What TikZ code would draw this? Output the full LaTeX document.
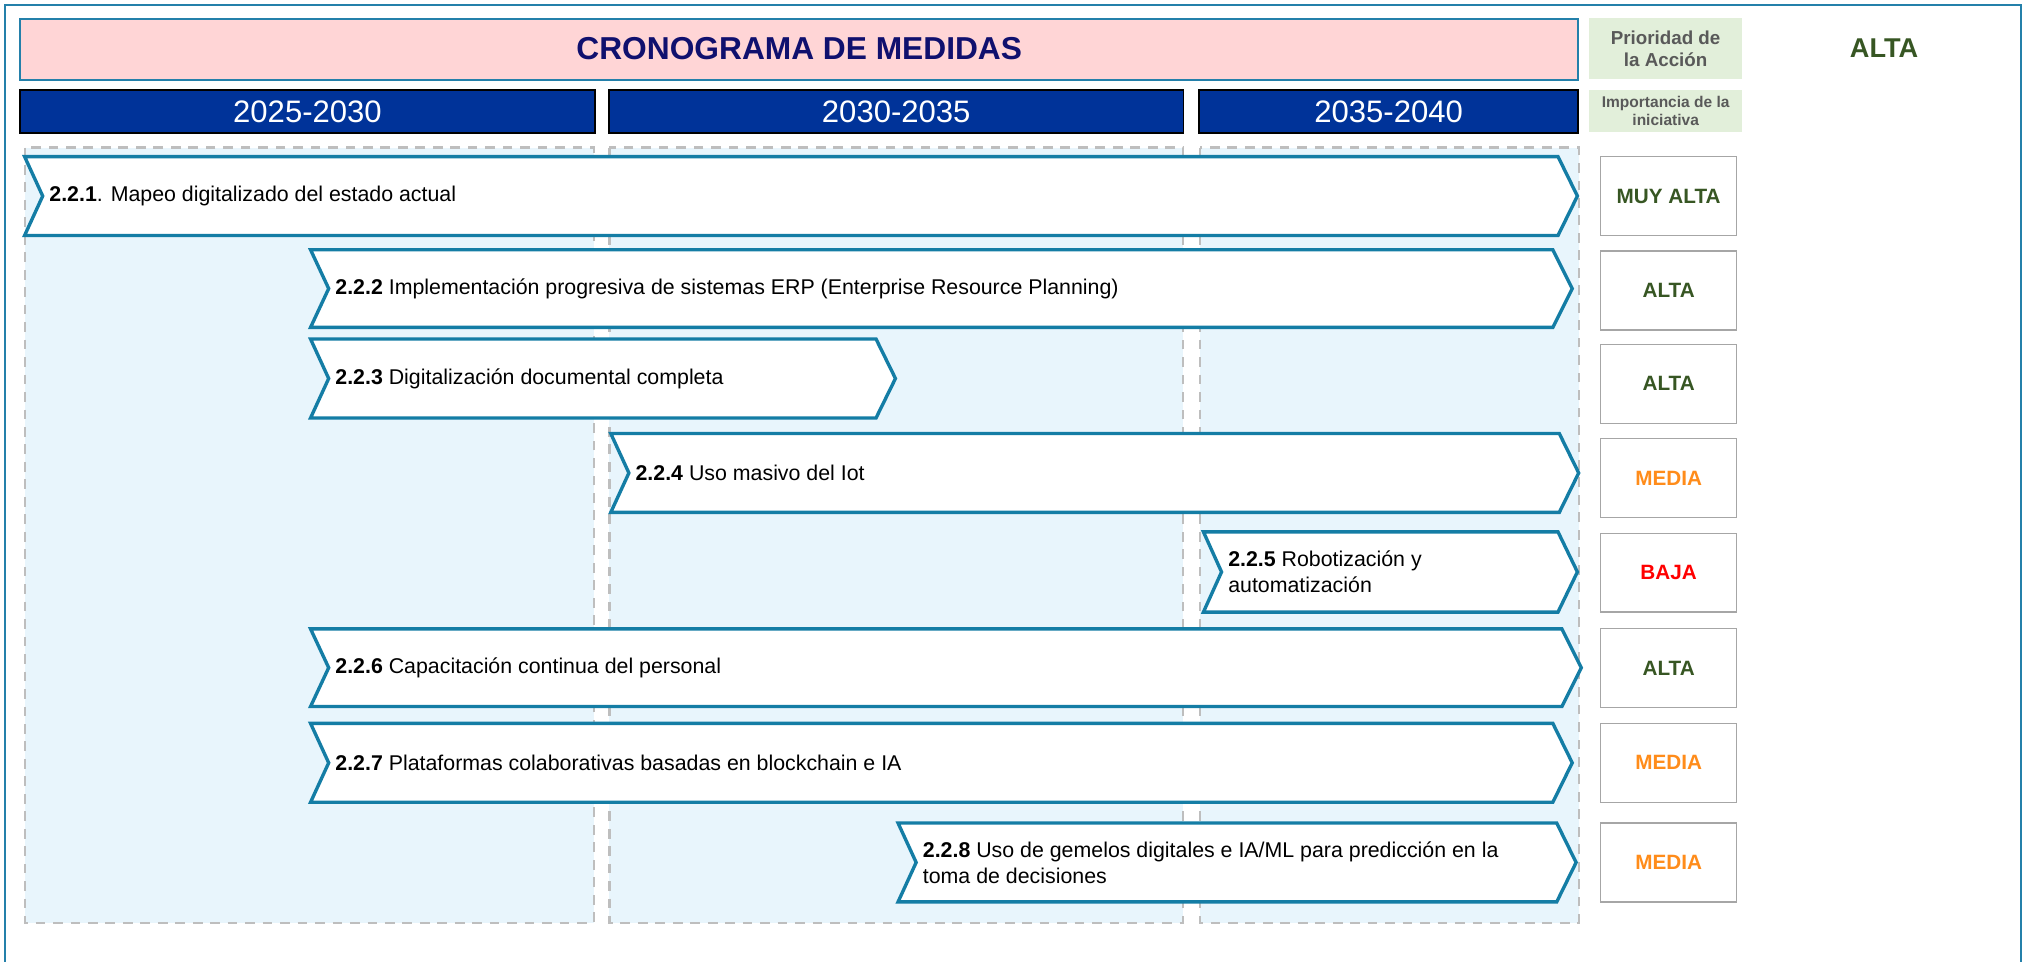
\documentclass[tikz,border=0pt]{standalone}
\usepackage{fontspec}
\setmainfont{Liberation Sans}
\definecolor{framec}{RGB}{36,128,170}
\definecolor{chevc}{RGB}{20,125,165}
\definecolor{titlefill}{RGB}{255,213,214}
\definecolor{titletext}{RGB}{16,16,110}
\definecolor{yearfill}{RGB}{0,51,153}
\definecolor{panelfill}{RGB}{232,245,252}
\definecolor{paneldash}{RGB}{190,190,190}
\definecolor{legfill}{RGB}{226,239,218}
\definecolor{legtext}{RGB}{89,89,89}
\definecolor{prgreen}{RGB}{55,86,35}
\definecolor{prorange}{RGB}{255,140,26}
\definecolor{prred}{RGB}{255,0,0}
\definecolor{prbox}{RGB}{166,166,166}
\newcommand\chevbar[6]{%
  \draw[chev] (#2,#3) -- ({#4-15},#3) -- (#4,{(#3+#5)/2}) -- ({#4-15},#5) -- (#2,#5) -- ({#2+14},{(#3+#5)/2}) -- cycle;
  \node[bartext] (#1) at ({#2+19},{(#3+#5)/2}) {#6};}
\begin{document}
\begin{tikzpicture}[x=1pt,y=-1pt,
  outerframe/.style={draw=framec, line width=1.6pt},
  titlebox/.style={draw=framec, line width=1.3pt, fill=titlefill, anchor=north west, inner sep=0pt,
    font=\fontsize{24.5}{28}\selectfont\bfseries, text=titletext},
  yearbox/.style={draw=black, line width=1.2pt, fill=yearfill, anchor=north west, inner sep=0pt,
    font=\fontsize{24}{28}\selectfont, text=white},
  legbox/.style={fill=legfill, anchor=north west, inner sep=0pt, align=center, text=legtext},
  panel/.style={draw=paneldash, fill=panelfill, line width=1.6pt, dash pattern=on 7.5pt off 6pt},
  chev/.style={draw=chevc, fill=white, line width=2.6pt, line join=miter},
  bartext/.style={anchor=west, inner sep=0pt, align=left, font=\fontsize{16.5}{20}\selectfont},
  prio/.style={draw=prbox, line width=0.9pt, fill=white, minimum width=105pt, minimum height=61pt,
    inner sep=0pt, font=\fontsize{16}{19}\selectfont\bfseries},
]
\useasboundingbox (0,0) rectangle (1568,743);
\draw[outerframe] (4,4) rectangle (1562,770);

% header
\node[titlebox, minimum width=1204pt, minimum height=47pt] (title) at (15,14) {\raisebox{2pt}{CRONOGRAMA DE MEDIDAS}};
\node[legbox, minimum width=118pt, minimum height=47pt, font=\fontsize{14.5}{17}\selectfont\bfseries] (prio) at (1228,14) {Prioridad de\\la Acción};
\node[legbox, minimum width=118pt, minimum height=33pt, font=\fontsize{12}{14}\selectfont\bfseries] (imp) at (1228,69) {Importancia de la\\iniciativa};
\node[text=prgreen, font=\fontsize{21}{24}\selectfont\bfseries] (alta) at (1456,37) {ALTA};

\node[yearbox, minimum width=444pt, minimum height=33pt] (y1) at (15,69) {2025-2030};
\node[yearbox, minimum width=444pt, minimum height=33pt] (y2) at (470,69) {2030-2035};
\node[yearbox, minimum width=293pt, minimum height=33pt] (y3) at (926,69) {2035-2040};

% panels
\draw[panel] (19,114) rectangle (459,713);
\draw[panel] (471,114) rectangle (914,713);
\draw[panel] (927,114) rectangle (1220,713);

% bars
\chevbar{m1}{19}{121}{1219}{182}{\textbf{2.2.1}. Mapeo digitalizado del estado actual}
\chevbar{m2}{240}{193}{1215}{253}{\textbf{2.2.2} Implementación progresiva de sistemas ERP (Enterprise Resource Planning)}
\chevbar{m3}{240}{262}{692}{323}{\textbf{2.2.3} Digitalización documental completa}
\chevbar{m4}{472}{335}{1220}{396}{\textbf{2.2.4} Uso masivo del Iot}
\chevbar{m5}{930}{411}{1219}{473}{\textbf{2.2.5} Robotización y\\automatización}
\chevbar{m6}{240}{486}{1222}{546}{\textbf{2.2.6} Capacitación continua del personal}
\chevbar{m7}{240}{559}{1215}{620}{\textbf{2.2.7} Plataformas colaborativas basadas en blockchain e IA}
\chevbar{m8}{694}{636}{1218}{697}{\textbf{2.2.8} Uso de gemelos digitales e IA/ML para predicción en la\\toma de decisiones}

% priorities
\node[prio, text=prgreen] (p1) at (1289.5,151.5) {MUY ALTA};
\node[prio, text=prgreen] (p2) at (1289.5,224.5) {ALTA};
\node[prio, text=prgreen] (p3) at (1289.5,296.5) {ALTA};
\node[prio, text=prorange] (p4) at (1289.5,369.5) {MEDIA};
\node[prio, text=prred] (p5) at (1289.5,442.5) {BAJA};
\node[prio, text=prgreen] (p6) at (1289.5,516.5) {ALTA};
\node[prio, text=prorange] (p7) at (1289.5,589.5) {MEDIA};
\node[prio, text=prorange] (p8) at (1289.5,666.5) {MEDIA};
\end{tikzpicture}
\end{document}
